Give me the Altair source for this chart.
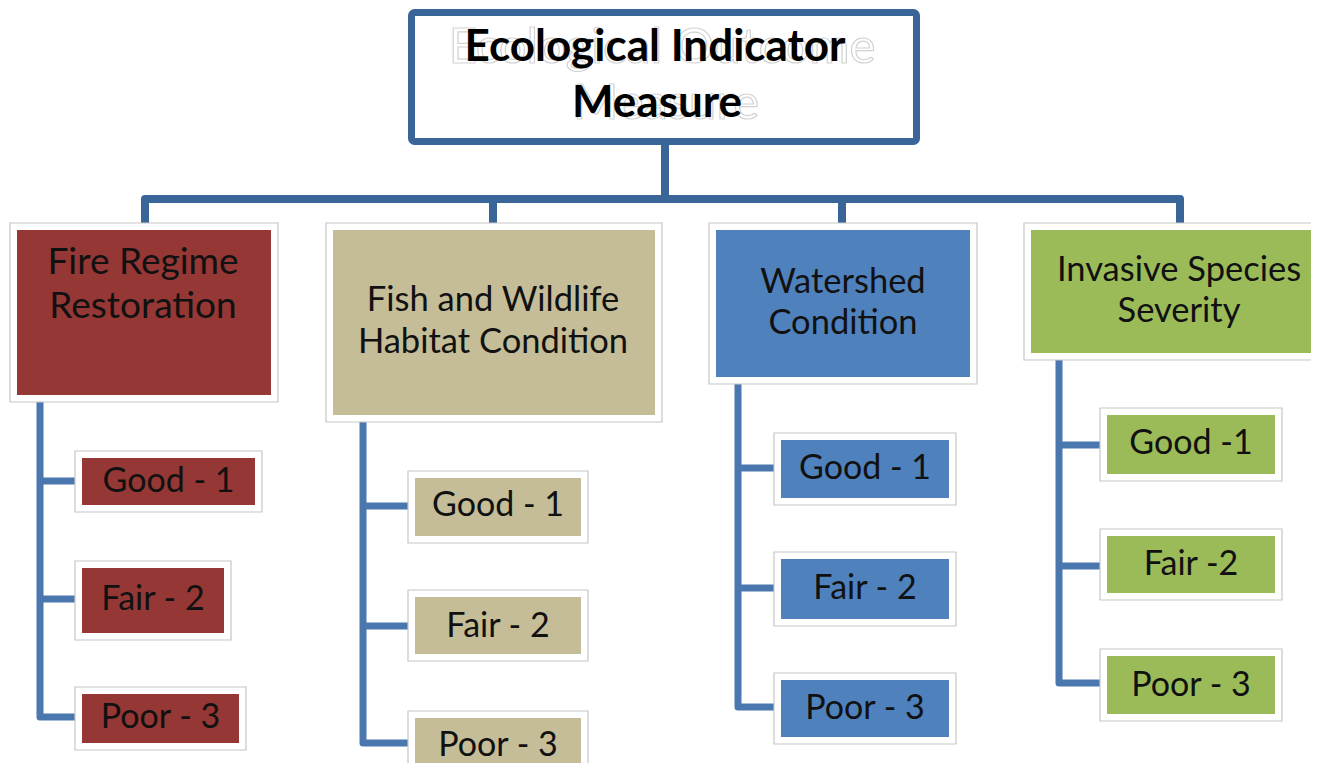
import altair as alt
import pandas as pd

# ---------------- data ----------------
title_lines = ["Ecological Indicator", "Measure"]
ghost_lines = ["Ecological Outcome", "Measure"]
title_y = [48, 104]
title_x = [655, 657]
ghost_x = [662, 666]

categories = ["Fire Regime Restoration", "Fish and Wildlife Habitat Condition",
              "Watershed Condition", "Invasive Species Severity"]
cat_lines = [["Fire Regime", "Restoration"],
             ["Fish and Wildlife", "Habitat Condition"],
             ["Watershed", "Condition"],
             ["Invasive Species", "Severity"]]
cat_font = [37, 34.5, 34.5, 34.5]
cat_colors = ["#953735", "#c4bd97", "#4f81bd", "#9bbb59"]
cat_x0 = [10, 326, 709, 1024]
cat_x1 = [278, 662, 977, 1340]
cat_y0 = [223, 223, 223, 223]
cat_y1 = [402, 422, 384, 360]
cat_text_x = [143, 493, 843, 1179]
cat_text_y = [[263, 307], [301, 343], [283, 324], [271, 312]]
cat_drop_x = [145, 493, 842, 1180]

child_labels = [["Good - 1", "Fair - 2", "Poor - 3"],
                ["Good - 1", "Fair - 2", "Poor - 3"],
                ["Good - 1", "Fair - 2", "Poor - 3"],
                ["Good -1", "Fair -2", "Poor - 3"]]
child_x0 = [[75, 75, 75], [408, 408, 408], [774, 774, 774], [1100, 1100, 1100]]
child_x1 = [[262, 231, 246], [588, 588, 588], [956, 956, 956], [1282, 1282, 1282]]
child_y0 = [[451, 561, 687], [471, 590, 711], [433, 552, 673], [408, 529, 649]]
child_y1 = [[512, 640, 750], [543, 661, 800], [505, 626, 744], [481, 600, 721]]
trunk_x = [40, 363, 738, 1059]
stub_y = [[481, 599, 717], [506, 626, 743], [468, 588, 707], [445, 566, 683]]
child_text_y = [[482, 600, 718], [506, 627, 746], [469, 589, 709], [444, 565, 686]]

root_x0, root_x1, root_y0, root_y1 = 411.5, 916.5, 12.5, 141.5
root_drop_x = 665
bus_y = 199

INSET = 7

# ---------------- tables ----------------
X = alt.Scale(domain=[8, 1311], nice=False, zero=False)
Y = alt.Scale(domain=[8, 763], reverse=True, nice=False, zero=False)

def xe(f):
    return alt.X(f, type="quantitative", scale=X, axis=None)

def ye(f):
    return alt.Y(f, type="quantitative", scale=Y, axis=None)

# connector paths (top level)
top_rows = []
pid = 0
path = [(cat_drop_x[0], cat_y0[0]), (cat_drop_x[0], bus_y), (cat_drop_x[3], bus_y), (cat_drop_x[3], cat_y0[3])]
for i, (px, py) in enumerate(path):
    top_rows.append({"p": pid, "o": i, "x": px, "y": py})
pid += 1
for k in (1, 2):
    for i, py in enumerate([bus_y, cat_y0[k]]):
        top_rows.append({"p": pid, "o": i, "x": cat_drop_x[k], "y": py})
    pid += 1
for i, py in enumerate([root_y1, bus_y]):
    top_rows.append({"p": pid, "o": i, "x": root_drop_x, "y": py})
pid += 1
top_df = pd.DataFrame(top_rows)

# child connectors
ch_rows = []
pid = 0
for c in range(4):
    pts = [(trunk_x[c], cat_y1[c]), (trunk_x[c], stub_y[c][2]), (child_x0[c][2], stub_y[c][2])]
    for i, (px, py) in enumerate(pts):
        ch_rows.append({"p": pid, "o": i, "x": px, "y": py})
    pid += 1
    for j in (0, 1):
        for i, px in enumerate([trunk_x[c], child_x0[c][j]]):
            ch_rows.append({"p": pid, "o": i, "x": px, "y": stub_y[c][j]})
        pid += 1
ch_df = pd.DataFrame(ch_rows)

# boxes
box_rows = []
for c in range(4):
    box_rows.append({"x0": cat_x0[c], "x1": cat_x1[c], "y0": cat_y0[c], "y1": cat_y1[c],
                     "fill": cat_colors[c]})
    for j in range(3):
        box_rows.append({"x0": child_x0[c][j], "x1": child_x1[c][j],
                         "y0": child_y0[c][j], "y1": child_y1[c][j], "fill": cat_colors[c]})
box_df = pd.DataFrame(box_rows)
box_df["ix0"] = box_df["x0"] + INSET
box_df["ix1"] = box_df["x1"] - INSET
box_df["iy0"] = box_df["y0"] + INSET
box_df["iy1"] = box_df["y1"] - INSET

cat_text_rows = []
for c in range(4):
    for k, t in enumerate(cat_lines[c]):
        cat_text_rows.append({"t": t, "x": cat_text_x[c], "y": cat_text_y[c][k], "fs": cat_font[c]})
cat_text_df = pd.DataFrame(cat_text_rows)

child_text_rows = []
for c in range(4):
    for j in range(3):
        child_text_rows.append({"t": child_labels[c][j],
                                "x": (child_x0[c][j] + child_x1[c][j]) / 2,
                                "y": child_text_y[c][j]})
child_text_df = pd.DataFrame(child_text_rows)

root_df = pd.DataFrame([{"x0": root_x0, "x1": root_x1, "y0": root_y0, "y1": root_y1}])
title_df = pd.DataFrame({"t": title_lines, "x": title_x, "y": title_y})
ghost_df = pd.DataFrame({"t": ghost_lines, "x": ghost_x, "y": title_y})

FONT = "Lato"

top_lines = alt.Chart(top_df).mark_line(color="#3a6599", strokeWidth=8, strokeJoin="round",
                                         strokeCap="butt").encode(
    x=xe("x"), y=ye("y"), detail="p:N", order="o:Q")
child_lines = alt.Chart(ch_df).mark_line(color="#4a77ae", strokeWidth=7, strokeJoin="round",
                                          strokeCap="butt").encode(
    x=xe("x"), y=ye("y"), detail="p:N", order="o:Q")

outer = alt.Chart(box_df).mark_rect(fill="white", stroke="#c6c6c6", strokeWidth=1.2).encode(
    x=xe("x0"), x2="x1", y=ye("y0"), y2="y1")
inner = alt.Chart(box_df).mark_rect(strokeWidth=0).encode(
    x=xe("ix0"), x2="ix1", y=ye("iy0"), y2="iy1",
    fill=alt.Fill("fill:N", scale=None))

root = alt.Chart(root_df).mark_rect(fill="white", stroke="#3a6599", strokeWidth=7,
                                    cornerRadius=3).encode(
    x=xe("x0"), x2="x1", y=ye("y0"), y2="y1")

ghost = alt.Chart(ghost_df).mark_text(font=FONT, fontSize=49, fill="white", stroke="#d2d2d2",
                                      strokeWidth=1.2, baseline="middle", align="center").encode(
    x=xe("x"), y=ye("y"), text="t:N")
title = alt.Chart(title_df).mark_text(font=FONT, fontSize=44, fontWeight="bold", color="black",
                                      baseline="middle", align="center").encode(
    x=xe("x"), y=ye("y"), text="t:N")

cat_text = alt.Chart(cat_text_df).mark_text(font=FONT, color="#111111",
                                            baseline="middle", align="center").encode(
    x=xe("x"), y=ye("y"), text="t:N", size=alt.Size("fs:Q", scale=None, legend=None))
child_text = alt.Chart(child_text_df).mark_text(font=FONT, fontSize=34, color="#111111",
                                                baseline="middle", align="center").encode(
    x=xe("x"), y=ye("y"), text="t:N")

chart = alt.layer(top_lines, child_lines, outer, inner, root, ghost, title,
                  cat_text, child_text).properties(
    width=1303, height=755, padding=0, background="white",
    autosize=alt.AutoSizeParams(type="none")
).configure_view(stroke=None, strokeWidth=0)

chart.save("out.html", embed_options={"renderer": "svg", "actions": False})
